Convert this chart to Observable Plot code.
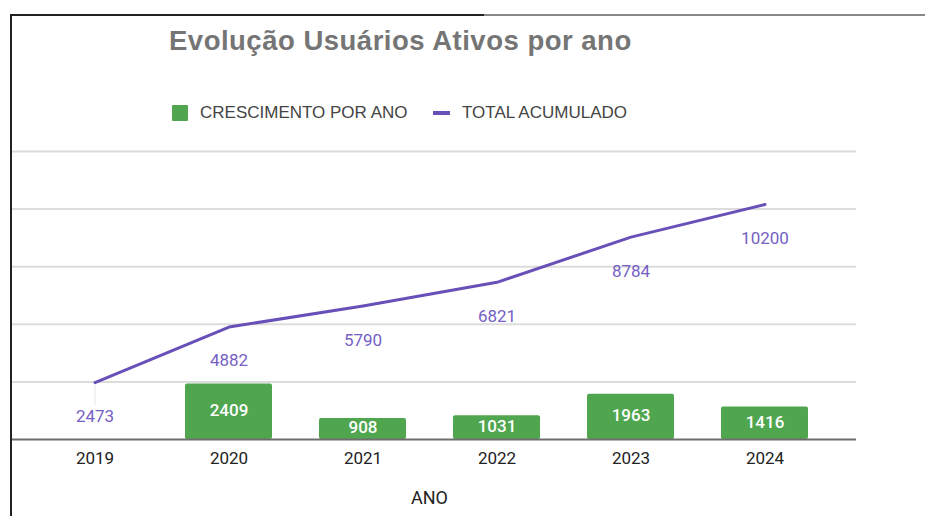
<!DOCTYPE html>
<html>
<head>
<meta charset="utf-8">
<script src="https://cdn.jsdelivr.net/npm/d3@7"></script>
<script src="https://cdn.jsdelivr.net/npm/@observablehq/plot@0.6"></script>
<style>
  body { margin: 0; background: #fff; }
  #wrap { position: relative; width: 925px; height: 516px; overflow: hidden; background: #fff; }
  .abs { position: absolute; white-space: nowrap; }
  #title { left: 169px; top: 25px; font: bold 27.5px "Liberation Sans", Arial, sans-serif; letter-spacing: 0.5px; color: #757575; }
  .leg { top: 103px; font: 17px "Liberation Sans", Arial, sans-serif; color: #444; line-height: 20px; }
  #chart { position: absolute; left: 0; top: 130px; }
  #xlabel { left: 0; width: 859px; text-align: center; top: 487px; font: 18px Roboto, "Liberation Sans", sans-serif; color: #222; }
</style>
</head>
<body>
<div id="wrap">
  <div class="abs" style="left:10px;top:14px;width:474px;height:2px;background:#222"></div>
  <div class="abs" style="left:484px;top:14px;width:441px;height:2px;background:#888"></div>
  <div class="abs" style="left:10px;top:14px;width:2px;height:502px;background:#222"></div>
  <div id="title" class="abs">Evolução Usuários Ativos por ano</div>
  <div class="abs" style="left:172px;top:105px;width:16px;height:16px;background:#4fa64f;border-radius:1px"></div>
  <div class="abs leg" id="leg1" style="left:200px">CRESCIMENTO POR ANO</div>
  <div class="abs" style="left:433px;top:111px;width:17px;height:4px;background:#6750b8"></div>
  <div class="abs leg" id="leg2" style="left:462px">TOTAL ACUMULADO</div>
  <div id="chart"></div>
  <div id="xlabel" class="abs">ANO</div>
</div>
<script>
const years = ["2019", "2020", "2021", "2022", "2023", "2024"];
const growth = [null, 2409, 908, 1031, 1963, 1416];
const total = [2473, 4882, 5790, 6821, 8784, 10200];
const gridTicks = [2500, 5000, 7500, 10000, 12500];

const rows = years.map((y, i) => ({year: y, growth: growth[i], total: total[i]}));
const barRows = rows.filter(d => d.growth != null);

const green = "#4fa64f";
const purple = "#6750b8";

const chart = Plot.plot({
  width: 925,
  height: 380,
  marginLeft: 12,
  marginRight: 69,
  marginTop: 21,
  marginBottom: 71,
  style: {fontFamily: "Roboto, 'Liberation Sans', sans-serif", background: "transparent"},
  x: {type: "band", domain: years, range: [25.7, 833.3], paddingInner: 0.354, paddingOuter: 0.177, axis: null},
  y: {domain: [0, 12500], axis: null},
  marks: [
    Plot.ruleY(gridTicks, {stroke: "#dcdcdc", strokeWidth: 2}),
    Plot.ruleX(rows.slice(0, 1), {x: "year", y1: "total", y2: d => d.total - 1000, stroke: "#e6e6e6", strokeWidth: 1}),
    Plot.barY(barRows, {x: "year", y: "growth", fill: green, rx: 2}),
    Plot.ruleY([0], {stroke: "#6e6e6e", strokeWidth: 2}),
    Plot.line(rows, {x: "year", y: "total", stroke: purple, strokeWidth: 3}),
    Plot.text(barRows, {x: "year", y: d => d.growth / 2, dy: -1, text: d => String(d.growth), fill: "#fff", fontWeight: 500, fontSize: 17}),
    Plot.text(rows, {x: "year", y: "total", dy: 34, text: d => String(d.total), fill: "#7560c4", fontSize: 17}),
    Plot.axisX({tickSize: 0, tickPadding: 12, fontSize: 17, color: "#222", label: null})
  ]
});
document.getElementById("chart").appendChild(chart);
</script>
</body>
</html>
